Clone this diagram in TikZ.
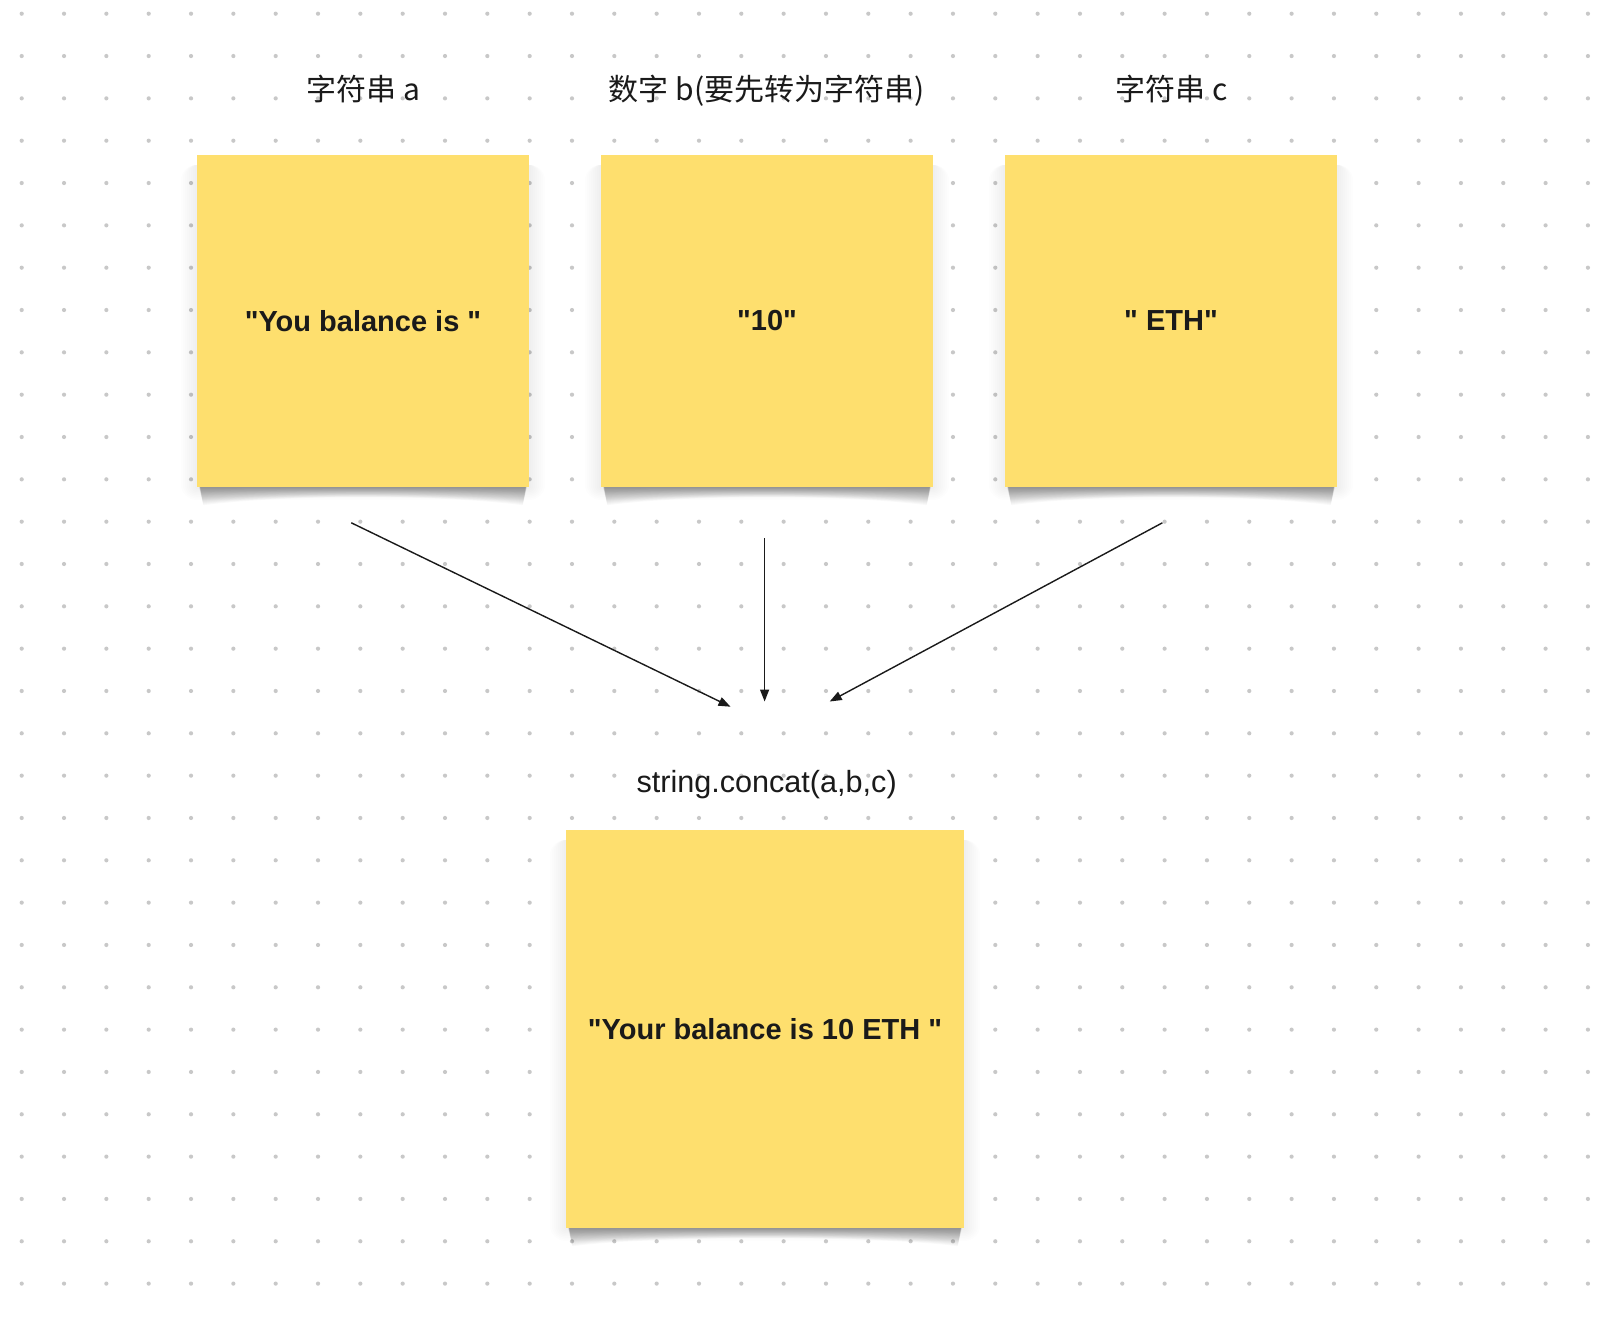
\documentclass[tikz,border=0pt]{standalone}
\usepackage{fontspec}
\setmainfont{Liberation Sans}
\newfontfamily\cjk{Noto Sans CJK SC}
\usetikzlibrary{arrows.meta,backgrounds}
\definecolor{sticky}{HTML}{FEDF6E}
\definecolor{griddot}{HTML}{C8C8C8}
\definecolor{ink}{HTML}{1A1A1A}
\newcommand\dq{\textquotedbl}
\tikzset{
  stickybox/.style={fill=sticky, inner sep=0pt, text=ink,
    font=\fontsize{29}{34}\selectfont\bfseries},
  cjklabel/.style={inner sep=0pt, text=ink, anchor=base, font=\cjk\fontsize{30}{36}\selectfont},
  plainlabel/.style={inner sep=0pt, text=ink, anchor=base, font=\fontsize{30.6}{36}\selectfont},
  flow/.style={draw=ink, line width=1.4pt, -{Triangle[length=12pt,width=9pt]}},
  halo/.style={fill=black, opacity=0.009},
  curl/.style={fill=black, opacity=0.022}
}
\newcommand\stickyshadow[1]{%
  \foreach \k in {1,...,8}{
    \fill[halo, rounded corners=\k*2pt]
      ([xshift=-\k*2pt, yshift=-10pt]#1.north west) rectangle ([xshift=\k*2pt, yshift=-\k*1.6pt]#1.south east);
  }
  \foreach \d in {1,2,...,18}{
    \fill[curl]
      ([xshift=2pt, yshift=10pt]#1.south west) -- ([xshift=2pt+0.25*\d*1pt, yshift=-\d*1pt]#1.south west)
      .. controls ([xshift=90pt, yshift=-0.4*\d*1pt]#1.south west) and ([xshift=-90pt, yshift=-0.4*\d*1pt]#1.south east)
      .. ([xshift=-2pt-0.25*\d*1pt, yshift=-\d*1pt]#1.south east) -- ([xshift=-2pt, yshift=10pt]#1.south east) -- cycle;
  }
}
\begin{document}
\begin{tikzpicture}[x=1pt,y=-1pt]
\useasboundingbox (0,0) rectangle (1620,1320);
% labels
\node[cjklabel] (la) at (363.7,100) {字符串 a};
\node[cjklabel] (lb) at (766.6,100) {数字 b(要先转为字符串)};
\node[cjklabel] (lc) at (1171.6,100) {字符串 c};
\node[plainlabel] (lr) at (766.6,792) {string.concat(a,b,c)};
% stickies
\node[stickybox, minimum width=332pt, minimum height=332pt] (sa) at (363,321) {\dq You balance is \dq};
\node[stickybox, minimum width=332pt, minimum height=332pt] (sb) at (767,321) {\dq 10\dq};
\node[stickybox, minimum width=332pt, minimum height=332pt] (sc) at (1171,321) {\dq\ ETH\dq};
\node[stickybox, minimum width=398pt, minimum height=398pt] (sr) at (765,1029) {\dq Your balance is 10 ETH \dq};
\begin{scope}[on background layer]
  \fill[white] (0,0) rectangle (1620,1320);
  % dot grid
  \foreach \i in {0,...,37}{
    \foreach \j in {0,...,30}{
      \fill[griddot] (21.7+42.33*\i, 13.7+42.33*\j) circle[radius=2.1pt];
    }
  }
  \stickyshadow{sa}
  \stickyshadow{sb}
  \stickyshadow{sc}
  \stickyshadow{sr}
\end{scope}
% connector ends
\coordinate (a1) at (351.3,522.8);
\coordinate (a2) at (764.6,538.3);
\coordinate (a3) at (1162.4,522.8);
\coordinate (e1) at (730.5,706.7);
\coordinate (e2) at (764.6,701.5);
\coordinate (e3) at (829.7,701.5);
\draw[flow] (a1) -- (e1);
\draw[flow] (a2) -- (e2);
\draw[flow] (a3) -- (e3);
\end{tikzpicture}
\end{document}
